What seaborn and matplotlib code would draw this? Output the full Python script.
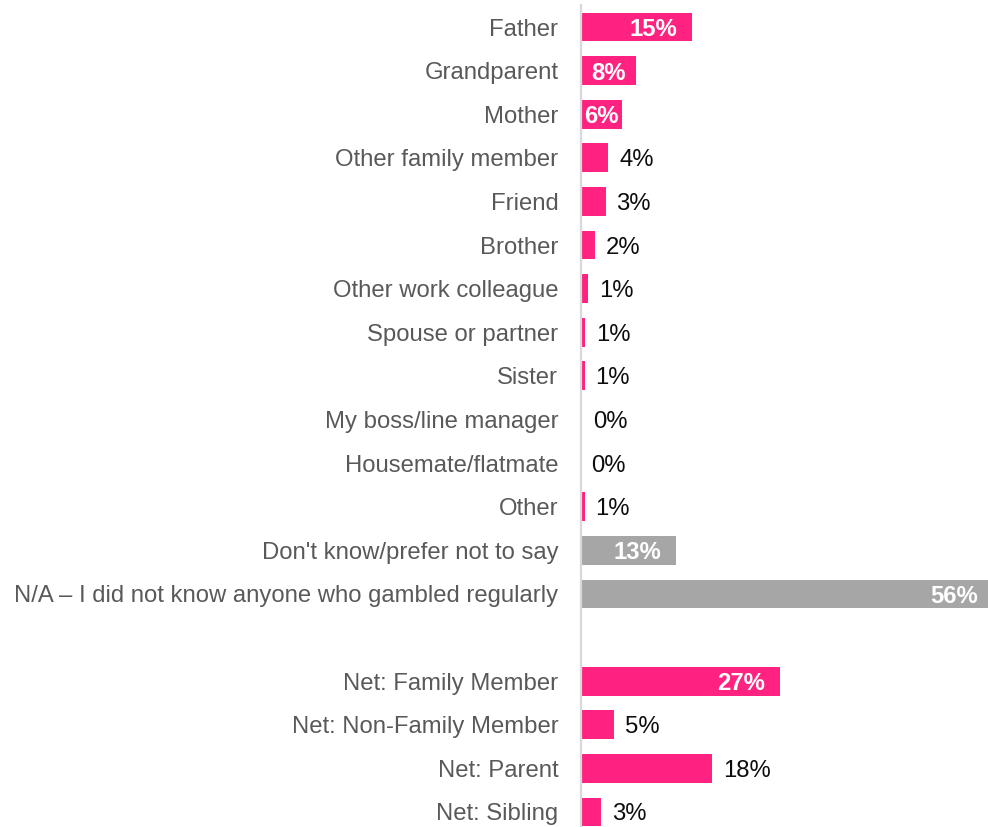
import matplotlib
matplotlib.use("Agg")
import matplotlib.pyplot as plt
import seaborn as sns
import pandas as pd

# Who the respondent knew that gambled regularly (% of respondents)
categories = [
    "Father", "Grandparent", "Mother", "Other family member", "Friend",
    "Brother", "Other work colleague", "Spouse or partner", "Sister",
    "My boss/line manager", "Housemate/flatmate", "Other",
    "Don't know/prefer not to say",
    "N/A \u2013 I did not know anyone who gambled regularly",
    " ",
    "Net: Family Member", "Net: Non-Family Member", "Net: Parent", "Net: Sibling",
]
values = [
    15.1, 7.6, 5.7, 3.8, 3.4,
    2.0, 1.05, 0.6, 0.55,
    0.25, 0.0, 0.55,
    13.0,
    56.0,
    0.0,
    27.1, 4.6, 17.9, 2.85,
]
grey_rows = ["Don't know/prefer not to say",
             "N/A \u2013 I did not know anyone who gambled regularly"]
inside_rows = ["Father", "Grandparent", "Mother",
               "Don't know/prefer not to say",
               "N/A \u2013 I did not know anyone who gambled regularly",
               "Net: Family Member"]

PINK = "#FF2280"
GREY = "#A6A6A6"
FS = 17.2

df = pd.DataFrame({"category": categories, "value": values})
palette = {c: (GREY if c in grey_rows else PINK) for c in categories}

sns.set_style("white")
plt.rcParams["font.family"] = ["Liberation Sans", "DejaVu Sans"]

fig = plt.figure(figsize=(9.88, 8.27), dpi=100)
# axes placed so the 56% bar runs just off the right edge
ax = fig.add_axes([580.5 / 988, -0.0082, (993 - 580.5) / 988, 1.0019])

sns.barplot(data=df, y="category", x="value", hue="category",
            palette=palette, order=categories, hue_order=categories,
            orient="h", width=0.66, linewidth=0, legend=False, ax=ax,
            errorbar=None, saturation=1)

ax.set_xlim(0, 56)
ax.set_ylim(len(categories) - 0.5, -0.5)
ax.set_xlabel("")
ax.set_ylabel("")
ax.set_xticks([])
ax.tick_params(axis="y", length=0, pad=16, labelsize=FS, labelcolor="#595959")
for side in ["top", "right", "bottom"]:
    ax.spines[side].set_visible(False)
ax.spines["left"].set_color("#D9D9D9")
ax.spines["left"].set_linewidth(1.6)

pad = 2.0  # data units between bar end and inside label
for i, (cat, v) in enumerate(zip(categories, values)):
    if cat.strip() == "":
        continue
    label = f"{round(v)}%"
    if cat in inside_rows:
        if v < 10:
            ax.text(v / 2, i, label, ha="center", va="center_baseline",
                    color="white", fontsize=FS, fontweight="bold")
        else:
            ax.text(v - pad, i, label, ha="right", va="center_baseline",
                    color="white", fontsize=FS, fontweight="bold")
    else:
        ax.annotate(label, xy=(v, i), xytext=(11, 0), textcoords="offset pixels",
                    ha="left", va="center_baseline", color="#0D0D0D", fontsize=FS)

fig.savefig("out.png", dpi=100)
